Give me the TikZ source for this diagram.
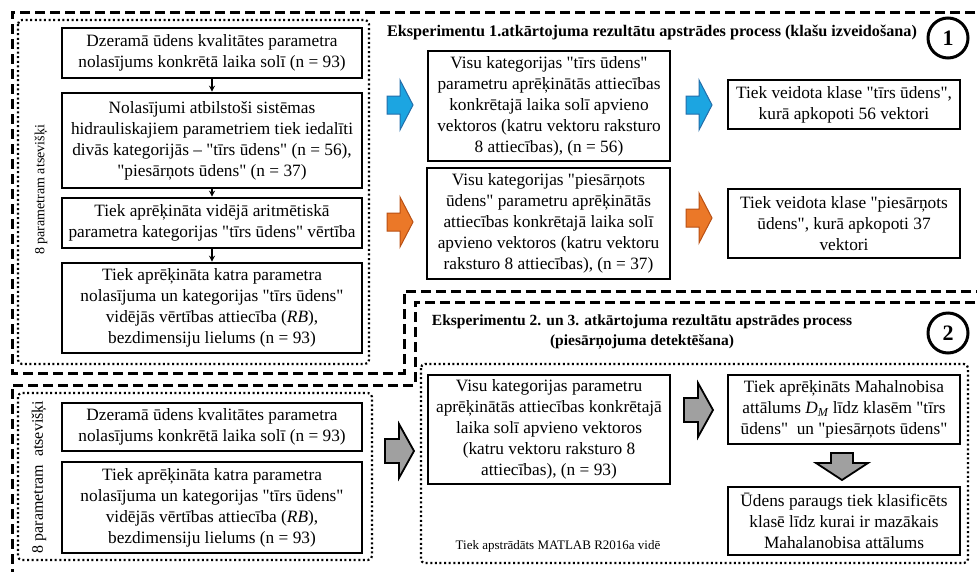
\documentclass[tikz,border=0pt]{standalone}
\usepackage{fontspec}
\setmainfont{Liberation Serif}[Ligatures=TeXOff]
\usetikzlibrary{arrows.meta}
\definecolor{bluef}{RGB}{28,165,225}
\definecolor{blued}{RGB}{35,110,170}
\definecolor{orangef}{RGB}{235,120,40}
\definecolor{oranged}{RGB}{185,80,20}
\definecolor{grayf}{RGB}{160,160,160}
\begin{document}
\begin{tikzpicture}[x=1pt,y=-1pt,
  box/.style={draw, line width=2.6pt, align=center, inner sep=0pt, font=\fontsize{17.3}{21}\selectfont},
  dashline/.style={line width=3pt, dash pattern=on 10pt off 5pt},
  dotline/.style={line width=2.2pt, dash pattern=on 2pt off 2.6pt, rounded corners=4pt},
  flow/.style={-{Stealth[length=6pt,width=6pt]}, line width=1.2pt},
  vlabel/.style={rotate=90, inner sep=0pt},
  titletext/.style={font=\fontsize{15.5}{20.5}\selectfont\bfseries, align=center, inner sep=0pt},
  numcirc/.style={circle, draw, line width=3pt, minimum size=40pt, inner sep=0pt, font=\fontsize{22}{22}\selectfont\bfseries},
  rarrow/.pic={\path[pic actions] (-13,-9) -- (0,-9) -- (0,-25) -- (13,0) -- (0,25) -- (0,9) -- (-13,9) -- cycle;},
  garrow/.pic={\path[pic actions] (-14,-12) -- (0,-12) -- (0,-27) -- (15,0) -- (0,27) -- (0,12) -- (-14,12) -- cycle;},
  darrow/.pic={\path[pic actions] (-11,-13) -- (11,-13) -- (11,-3) -- (26,-3) -- (0,14) -- (-26,-3) -- (-11,-3) -- cycle;},
  bluearr/.style={fill=bluef, draw=blued, line width=1pt},
  orangearr/.style={fill=orangef, draw=oranged, line width=1pt},
  grayarr/.style={fill=grayf, draw=black, line width=1.8pt}
]
\useasboundingbox (0,0) rectangle (977,571);
\fill[white] (0,0) rectangle (977,571);

% dashed regions
\draw[dashline] (990,12) -- (12,12) -- (12,373) -- (404,373) -- (404,291) -- (990,291);
\draw[dashline] (990,302) -- (415,302) -- (415,385) -- (12,385) -- (12,590);

% dotted groups
\draw[dotline] (18,20) rectangle (369,364);
\draw[dotline] (18,393) rectangle (372,560);
\draw[dotline] (421,364) rectangle (968,563);

% titles
\node[titletext, font=\fontsize{16.2}{20.5}\selectfont\bfseries] (t1) at (652,33) {Eksperimentu 1.atkārtojuma rezultātu apstrādes process (klašu izveidošana)};
\node[titletext] (t2) at (642,332) {Eksperimentu 2. un 3. atkārtojuma rezultātu apstrādes process\\(piesārņojuma detektēšana)};
\node[numcirc] (c1) at (948,38) {1};
\node[numcirc] (c2) at (948,333) {2};

% left column (top)
\node[vlabel, font=\fontsize{14}{16}\selectfont] (v1) at (41,190) {8 parametram atsevišķi};
\node[box, minimum width=300pt, minimum height=50pt] (a1) at (212,53) {Dzeramā ūdens kvalitātes parametra\\nolasījums konkrētā laika solī (n = 93)};
\node[box, minimum width=300pt, minimum height=95pt] (a2) at (212,140.5) {Nolasījumi atbilstoši sistēmas\\hidrauliskajiem parametriem tiek iedalīti\\divās kategorijās – "tīrs ūdens" (n = 56),\\"piesārņots ūdens" (n = 37)};
\node[box, minimum width=300pt, minimum height=50pt] (a3) at (212,223) {Tiek aprēķināta vidējā aritmētiskā\\parametra kategorijas "tīrs ūdens" vērtība};
\node[box, minimum width=300pt, minimum height=90pt] (a4) at (212,308) {Tiek aprēķināta katra parametra\\nolasījuma un kategorijas "tīrs ūdens"\\vidējās vērtības attiecība (\textit{RB}),\\bezdimensiju lielums (n = 93)};
\draw[flow] (a1) -- (a2);
\draw[flow] (a2) -- (a3);
\draw[flow] (a3) -- (a4);

% experiment 1 right part
\node[box, minimum width=242pt, minimum height=110pt] (b1) at (549,106) {Visu kategorijas "tīrs ūdens"\\parametru aprēķinātās attiecības\\konkrētajā laika solī apvieno\\vektoros (katru vektoru raksturo\\8 attiecības), (n = 56)};
\node[box, minimum width=243pt, minimum height=111pt] (b2) at (548.5,223.5) {Visu kategorijas "piesārņots\\ūdens" parametru aprēķinātās\\attiecības konkrētajā laika solī\\apvieno vektoros (katru vektoru\\raksturo 8 attiecības), (n = 37)};
\node[box, minimum width=232pt, minimum height=49pt] (cb1) at (844,104.5) {Tiek veidota klase "tīrs ūdens",\\kurā apkopoti 56 vektori};
\node[box, minimum width=232pt, minimum height=69pt] (cb2) at (844,223.5) {Tiek veidota klase "piesārņots\\ūdens", kurā apkopoti 37\\vektori};
\pic[bluearr] at (400,105) {rarrow};
\pic[bluearr] at (699,105) {rarrow};
\pic[orangearr] at (400,222) {rarrow};
\pic[orangearr] at (699,218) {rarrow};

% left column (bottom)
\node[vlabel, font=\fontsize{16}{18}\selectfont] (v2) at (39,477) {8 parametram\ \ atsevišķi};
\node[box, minimum width=300pt, minimum height=48pt] (d1) at (212,427) {Dzeramā ūdens kvalitātes parametra\\nolasījums konkrētā laika solī (n = 93)};
\node[box, minimum width=300pt, minimum height=91pt] (d2) at (212,507.5) {Tiek aprēķināta katra parametra\\nolasījuma un kategorijas "tīrs ūdens"\\vidējās vērtības attiecība (\textit{RB}),\\bezdimensiju lielums (n = 93)};

% experiment 2 right part
\node[box, minimum width=242pt, minimum height=109pt] (e1) at (549,429.5) {Visu kategorijas parametru\\aprēķinātās attiecības konkrētajā\\laika solī apvieno vektoros\\(katru vektoru raksturo 8\\attiecības), (n = 93)};
\node[box, minimum width=232pt, minimum height=69pt] (f1) at (844,409.5) {Tiek aprēķināts Mahalnobisa\\attālums \textit{D\textsubscript{M}} līdz klasēm "tīrs\\ūdens"\ \ un "piesārņots ūdens"};
\node[box, minimum width=232pt, minimum height=68pt] (f2) at (844,521) {Ūdens paraugs tiek klasificēts\\klasē līdz kurai ir mazākais\\Mahalanobisa attālums};
\node[font=\fontsize{13}{15}\selectfont, inner sep=0pt] (matlab) at (558,546) {Tiek apstrādāts MATLAB R2016a vidē};
\pic[grayarr] at (399,451) {garrow};
\pic[grayarr] at (698,410) {garrow};
\pic[grayarr] at (842,466) {darrow};
\end{tikzpicture}
\end{document}
